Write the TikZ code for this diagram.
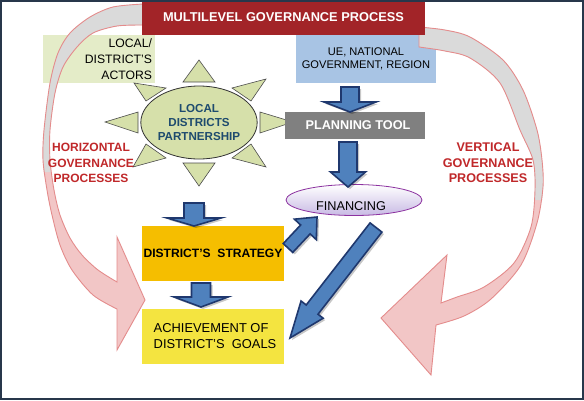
\documentclass[tikz,border=0pt]{standalone}
\usepackage{fontspec}
\setmainfont{Liberation Sans}
\usetikzlibrary{calc,shapes.geometric}

\definecolor{titlered}{RGB}{162,36,40}
\definecolor{actgreen}{RGB}{228,236,200}
\definecolor{uebl}{RGB}{168,196,228}
\definecolor{ellgreen}{RGB}{214,224,170}
\definecolor{partblue}{RGB}{30,75,110}
\definecolor{toolgray}{RGB}{128,128,128}
\definecolor{finlav}{RGB}{200,186,228}
\definecolor{finpurple}{RGB}{140,50,160}
\definecolor{stratorange}{RGB}{245,190,0}
\definecolor{achyellow}{RGB}{244,228,64}
\definecolor{govred}{RGB}{192,40,42}
\definecolor{arrfill}{RGB}{79,129,189}
\definecolor{arrline}{RGB}{31,56,110}
\definecolor{pinkfill}{RGB}{242,198,198}
\definecolor{pinkline}{RGB}{228,140,140}
\definecolor{bandgray}{RGB}{218,218,218}
\definecolor{framecol}{RGB}{40,55,75}

% block arrow: #1 tail coord name, #2 tip coord name, #3 shaft half width, #4 head half width, #5 head length
\newcommand\blockarr[5]{%
  \coordinate (ba-b) at ($(#2)!#5!(#1)$);
  \path[arrshadow] ($(#1)!#3!90:(#2)$) -- ($(ba-b)!#3!90:(#2)$) -- ($(ba-b)!#4!90:(#2)$) -- (#2) -- ($(ba-b)!#4!-90:(#2)$) -- ($(ba-b)!#3!-90:(#2)$) -- ($(#1)!#3!-90:(#2)$) -- cycle;
  \path[bluearr] ($(#1)!#3!90:(#2)$) -- ($(ba-b)!#3!90:(#2)$) -- ($(ba-b)!#4!90:(#2)$) -- (#2) -- ($(ba-b)!#4!-90:(#2)$) -- ($(ba-b)!#3!-90:(#2)$) -- ($(#1)!#3!-90:(#2)$) -- cycle;
}

\begin{document}
\begin{tikzpicture}[x=1pt,y=-1pt,
  box/.style={rectangle, inner sep=0pt},
  tri/.style={fill=ellgreen, draw=black!70, line width=0.6pt, line join=miter},
  bluearr/.style={fill=arrfill, draw=arrline, line width=1.6pt, line join=miter},
  arrshadow/.style={fill=black, opacity=0.22, transform canvas={xshift=2pt,yshift=-2pt}},
  govtext/.style={text=govred, font=\bfseries\fontsize{12}{15.5}\selectfont, align=center},
]
\useasboundingbox (0,0) rectangle (584,400);
\fill[white] (0,0) rectangle (584,400);

% upper boxes
\node[box, fill=actgreen, minimum width=112pt, minimum height=48pt, text width=106pt, align=right,
      font=\fontsize{12.2}{16}\selectfont] (actors) at (99,59) {LOCAL/\\DISTRICT'S\\ACTORS};
\node[box, fill=uebl, minimum width=140pt, minimum height=48pt, align=center,
      font=\fontsize{11.1}{13.5}\selectfont] (ue) at (366,59) {UE, NATIONAL\\GOVERNMENT, REGION};

% left curved arrow
\path[fill=pinkfill] plot[smooth] coordinates {(143,4) (113,7) (90,17) (70,33) (58,53) (50,83) (44,130) (43,160) (47,190) (52,215) (60,245) (72,270) (93,295) (117,309)}
  -- (117,350) -- (145,300) -- (117,237) -- (117,282)
  -- plot[smooth] coordinates {(117,282) (98,270) (82,255) (70,238) (60,215) (54,190) (50,160) (50,130) (55,93) (63,67) (77,47) (93,33) (117,26) (143,25)} -- cycle;
\path[fill=bandgray] plot[smooth] coordinates {(143,4) (113,7) (90,17) (70,33) (58,53) (50,83) (44,130) (43,160) (44,172)}
  -- plot[smooth] coordinates {(51,172) (50,160) (50,130) (55,93) (63,67) (77,47) (93,33) (117,26) (143,25)} -- cycle;
\path[draw=pinkline, line width=0.9pt] plot[smooth] coordinates {(143,4) (113,7) (90,17) (70,33) (58,53) (50,83) (44,130) (43,160) (47,190) (52,215) (60,245) (72,270) (93,295) (117,309)}
  -- (117,350) -- (145,300) -- (117,237) -- (117,282)
  -- plot[smooth] coordinates {(117,282) (98,270) (82,255) (70,238) (60,215) (54,190) (50,160) (50,130) (55,93) (63,67) (77,47) (93,33) (117,26) (143,25)};

% right curved arrow
\path[fill=pinkfill] plot[smooth] coordinates {(419,27) (445,30) (470,37) (503,60) (523,90) (537,130) (542,160) (543,187) (537,223) (521,265) (491,299) (464,316) (436,325)}
  -- (431,375) -- (381,318) -- (447,255) -- (441,303)
  -- plot[smooth] coordinates {(441,303) (457,297) (484,287) (514,263) (531,227) (535,190) (533,160) (520,130) (500,83) (470,58) (445,51) (419,47)} -- cycle;
\path[fill=bandgray] plot[smooth] coordinates {(419,27) (445,30) (470,37) (503,60) (523,90) (537,130) (542,160) (543,187) (542,200)}
  -- plot[smooth] coordinates {(534,200) (535,190) (533,160) (520,130) (500,83) (470,58) (445,51) (419,47)} -- cycle;
\path[draw=pinkline, line width=0.9pt] plot[smooth] coordinates {(419,27) (445,30) (470,37) (503,60) (523,90) (537,130) (542,160) (543,187) (537,223) (521,265) (491,299) (464,316) (436,325)}
  -- (431,375) -- (381,318) -- (447,255) -- (441,303)
  -- plot[smooth] coordinates {(441,303) (457,297) (484,287) (514,263) (531,227) (535,190) (533,160) (520,130) (500,83) (470,58) (445,51) (419,47)} -- cycle;

% title
\node[box, fill=titlered, minimum width=283pt, minimum height=35pt, text=white,
      font=\bfseries\fontsize{12.8}{14}\selectfont] (title) at (283.5,17.5) {MULTILEVEL GOVERNANCE PROCESS};

% sun rays
\path[tri] (199,60) -- (183,82) -- (215,82) -- cycle;
\path[tri] (183,163) -- (215,163) -- (199,186) -- cycle;
\path[tri] (105,122) -- (138,112) -- (138,133) -- cycle;
\path[tri] (293,122) -- (260,112) -- (260,133) -- cycle;
\path[tri] (134,83) -- (166,88) -- (146,101) -- cycle;
\path[tri] (266,79) -- (232,88) -- (251,101) -- cycle;
\path[tri] (133,167) -- (146,144) -- (166,158) -- cycle;
\path[tri] (266,167) -- (251,144) -- (232,158) -- cycle;

\node[ellipse, fill=ellgreen, draw=black!80, line width=0.8pt, minimum width=110pt, minimum height=73pt,
      inner sep=0pt, align=center, text=partblue, font=\bfseries\fontsize{11.6}{14}\selectfont]
      (part) at (199,122.5) {LOCAL\\DISTRICTS\\PARTNERSHIP};

\node[box, fill=toolgray, minimum width=140pt, minimum height=27pt, text=white,
      font=\bfseries\fontsize{12.7}{14}\selectfont] (tool) at (355,125.5) {\hspace{6pt}PLANNING TOOL};

\node[ellipse, top color=white, bottom color=finlav, draw=finpurple, line width=0.8pt,
      minimum width=136pt, minimum height=31pt, inner sep=0pt] (fin) at (354,200) {};
\node[font=\fontsize{12.7}{14}\selectfont, inner sep=0pt] (fintext) at (351,206) {FINANCING};

\node[box, fill=stratorange, minimum width=142pt, minimum height=55pt,
      font=\bfseries\fontsize{12.1}{14}\selectfont] (strat) at (213,253.5) {DISTRICT'S\ \ STRATEGY};
\node[box, fill=achyellow, minimum width=142pt, minimum height=55pt, align=left,
      font=\fontsize{12.9}{16}\selectfont] (ach) at (213,336.5) {\hspace{4pt}ACHIEVEMENT OF\\\hspace{4pt}DISTRICT'S\ \ GOALS};

\node[govtext] (horiz) at (91,163) {HORIZONTAL\\GOVERNANCE\\PROCESSES};
\node[govtext, font=\bfseries\fontsize{12.6}{15.5}\selectfont] (vert) at (488,163) {VERTICAL\\GOVERNANCE\\PROCESSES};

% blue block arrows
\coordinate (aAt) at (350,87);   \coordinate (aAp) at (350,112);
\coordinate (aBt) at (348,142);  \coordinate (aBp) at (348,187);
\coordinate (aCt) at (194,203);  \coordinate (aCp) at (194,226);
\coordinate (aDt) at (201,283);  \coordinate (aDp) at (201,307);
\coordinate (aEt) at (288,248);  \coordinate (aEp) at (317,217);
\coordinate (aFt) at (376,227.5);\coordinate (aFp) at (290,338);
\blockarr{aAt}{aAp}{9pt}{26pt}{10pt}
\blockarr{aBt}{aBp}{9pt}{17.5pt}{15pt}
\blockarr{aCt}{aCp}{10pt}{27pt}{8pt}
\blockarr{aDt}{aDp}{9.5pt}{27pt}{10pt}
\blockarr{aEt}{aEp}{6.5pt}{15pt}{17pt}
\blockarr{aFt}{aFp}{7.5pt}{14pt}{36pt}

% frame
\draw[framecol, line width=2pt] (1,1) rectangle (583,399);
\end{tikzpicture}
\end{document}
